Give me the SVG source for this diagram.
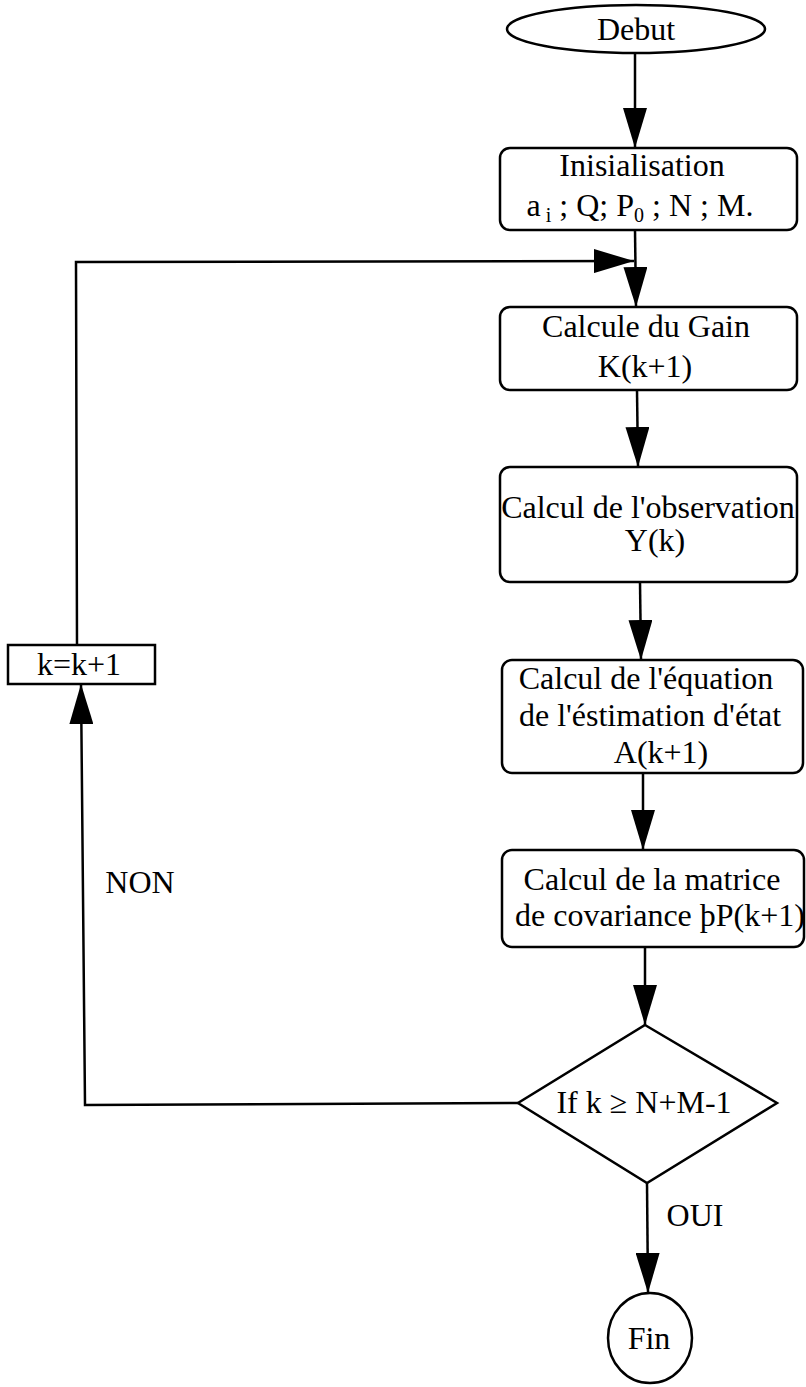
<svg xmlns="http://www.w3.org/2000/svg" width="806" height="1387" viewBox="0 0 806 1387">
<defs>
<style>
.shape{fill:#fff;stroke:#000;stroke-width:2.5}
.t{font-family:"Liberation Serif","Times New Roman",serif;font-size:32px;fill:#000;text-anchor:middle}
.c{fill:none;stroke:#000;stroke-width:2.5}
</style>
<marker id="ah" markerUnits="userSpaceOnUse" markerWidth="40" markerHeight="24" refX="40" refY="12" orient="auto">
<path d="M0,0 L40,12 L0,24 Z" fill="#000"/>
</marker>
</defs>
<rect width="806" height="1387" fill="#fff"/>
<g id="connectors">
<line class="c" x1="635" y1="53" x2="635" y2="148" marker-end="url(#ah)"/>
<line class="c" x1="635" y1="230" x2="636" y2="307" marker-end="url(#ah)"/>
<line class="c" x1="637" y1="390" x2="638" y2="467" marker-end="url(#ah)"/>
<line class="c" x1="640" y1="582" x2="641" y2="660" marker-end="url(#ah)"/>
<line class="c" x1="643" y1="773" x2="643" y2="850" marker-end="url(#ah)"/>
<line class="c" x1="645" y1="947" x2="645" y2="1025" marker-end="url(#ah)"/>
<line class="c" x1="647" y1="1183" x2="648" y2="1293" marker-end="url(#ah)"/>
<polyline class="c" points="518,1103 85,1105 81,684" marker-end="url(#ah)"/>
<polyline class="c" points="77,645 76,262 634,261" marker-end="url(#ah)"/>
</g>
<g id="debut">
<ellipse class="shape" cx="636" cy="29" rx="129" ry="24"/>
<text class="t" x="636" y="40">Debut</text>
</g>
<g id="init">
<rect class="shape" x="500" y="148" width="297" height="82" rx="10"/>
<text class="t" x="642" y="176">Inisialisation</text>
<text class="t" x="640" y="216">a<tspan font-size="20" dy="6"> i</tspan><tspan dy="-6"> ; Q; P</tspan><tspan font-size="20" dy="6">0</tspan><tspan dy="-6"> ; N ; M.</tspan></text>
</g>
<g id="gain">
<rect class="shape" x="500" y="307" width="297" height="83" rx="10"/>
<text class="t" x="646" y="337">Calcule du Gain</text>
<text class="t" x="645" y="377">K(k+1)</text>
</g>
<g id="observation">
<rect class="shape" x="500" y="467" width="297" height="115" rx="10"/>
<text class="t" x="648" y="518">Calcul de l'observation</text>
<text class="t" x="655" y="551">Y(k)</text>
</g>
<g id="estimation">
<rect class="shape" x="502" y="660" width="301" height="113" rx="10"/>
<text class="t" x="646" y="689">Calcul de l'équation</text>
<text class="t" x="650" y="726">de l'éstimation d'état</text>
<text class="t" x="661" y="763">A(k+1)</text>
</g>
<g id="covariance">
<rect class="shape" x="502" y="850" width="302" height="97" rx="10"/>
<text class="t" x="652" y="890">Calcul de la matrice</text>
<text class="t" x="660" y="926">de covariance þP(k+1)</text>
</g>
<g id="decision">
<polygon class="shape" points="645,1025 777,1103 647,1183 518,1103"/>
<text class="t" x="644" y="1113" font-size="30">If k ≥ N+M-1</text>
</g>
<g id="fin">
<ellipse class="shape" cx="650" cy="1338" rx="42" ry="45"/>
<text class="t" x="649" y="1349">Fin</text>
</g>
<g id="incr">
<rect class="shape" x="8" y="645" width="147" height="39"/>
<text class="t" x="79" y="675" font-size="31">k=k+1</text>
</g>
<g id="labels">
<text class="t" x="140" y="893" font-size="31">NON</text>
<text class="t" x="695" y="1226" font-size="31">OUI</text>
</g>
</svg>
